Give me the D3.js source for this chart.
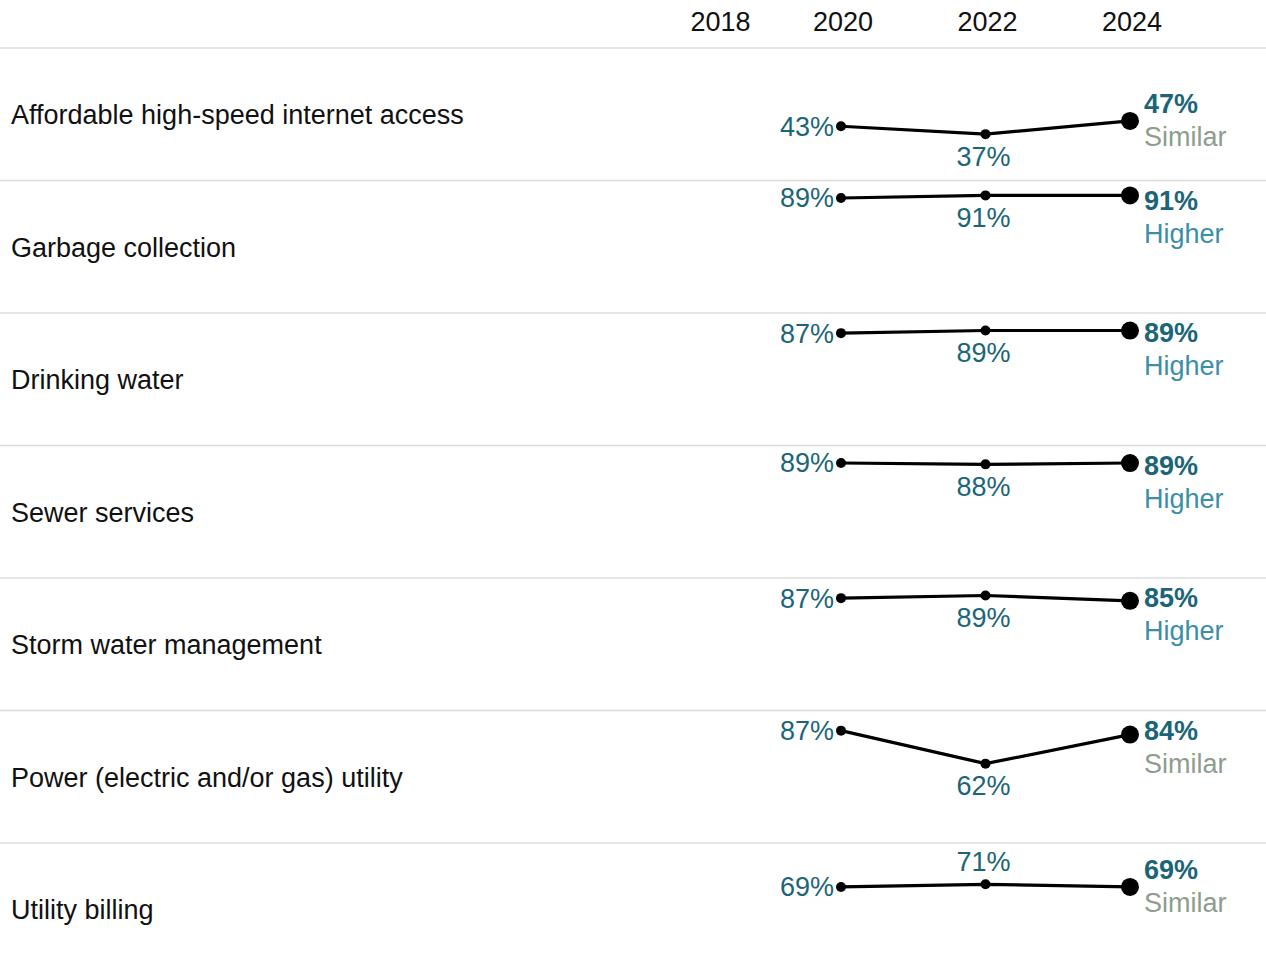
<!DOCTYPE html>
<html>
<head>
<meta charset="utf-8">
<script src="https://cdn.jsdelivr.net/npm/d3@7"></script>
<style>
  body { margin: 0; background: #fff; }
  svg { display: block; font-family: "Liberation Sans", Arial, sans-serif; }
  .sep { stroke: #dcdcdc; stroke-width: 1.5; }
  .year { font-size: 27px; fill: #111; text-anchor: middle; }
  .service { font-size: 27px; fill: #111; }
  .val { font-size: 27px; fill: #1b6577; }
  .val-last { font-size: 27px; fill: #1b6577; font-weight: bold; }
  .trend { stroke: #000; stroke-width: 3.2; fill: none; }
</style>
</head>
<body>
<svg width="1266" height="967"></svg>
<script>
  // data
  const years = [2018, 2020, 2022, 2024];
  const dataYears = [2020, 2022, 2024];
  const services = [
    'Affordable high-speed internet access',
    'Garbage collection',
    'Drinking water',
    'Sewer services',
    'Storm water management',
    'Power (electric and/or gas) utility',
    'Utility billing'
  ];
  const values2020 = [43, 89, 87, 89, 87, 87, 69];
  const values2022 = [37, 91, 89, 88, 89, 62, 71];
  const values2024 = [47, 91, 89, 89, 85, 84, 69];
  const status = ['Similar', 'Higher', 'Higher', 'Higher', 'Higher', 'Similar', 'Similar'];
  const midLabelAbove = [false, false, false, false, false, false, true];

  const statusColor = { Similar: '#8d9d8e', Higher: '#3c8ea6' };

  const width = 1266;
  const headerH = 48;
  const rowH = 132.5;

  const svg = d3.select('svg');

  const x = d3.scaleLinear().domain([2020, 2024]).range([841, 1130]);

  // header
  svg.selectAll('text.year').data(years)
    .enter().append('text')
      .attr('class', 'year')
      .attr('x', d => d === 2018 ? x(d) + 24 : x(d) + 2)
      .attr('y', 31)
      .text(d => d);

  svg.append('line')
    .attr('class', 'sep')
    .attr('x1', 0).attr('x2', width)
    .attr('y1', headerH).attr('y2', headerH);

  const rows = services.map((name, i) => ({
    name,
    vals: [values2020[i], values2022[i], values2024[i]],
    status: status[i],
    above: midLabelAbove[i],
    top: headerH + i * rowH
  }));

  const rowG = svg.selectAll('g.row').data(rows)
    .enter().append('g')
      .attr('class', 'row');

  rowG.filter((d, i) => i > 0).append('line')
    .attr('class', 'sep')
    .attr('x1', 0).attr('x2', width)
    .attr('y1', d => d.top).attr('y2', d => d.top);

  rowG.append('text')
    .attr('class', 'service')
    .attr('x', 11)
    .attr('y', d => d.top + 67)
    .attr('dy', '0.35em')
    .text(d => d.name);

  rowG.each(function (d) {
    const g = d3.select(this);
    const y = d3.scaleLinear().domain([0, 100]).range([d.top + 135, d.top + 3]);
    const pts = d.vals.map((v, j) => ({ year: dataYears[j], v }));

    g.append('path')
      .attr('class', 'trend')
      .attr('d', d3.line().x(p => x(p.year)).y(p => y(p.v))(pts));

    g.selectAll('circle').data(pts)
      .enter().append('circle')
        .attr('cx', p => x(p.year))
        .attr('cy', p => y(p.v))
        .attr('r', (p, j) => j === 2 ? 9 : 5)
        .attr('fill', '#000');

    // 2020 label
    g.append('text')
      .attr('class', 'val')
      .attr('x', x(2020) - 7)
      .attr('y', y(pts[0].v))
      .attr('dy', '0.35em')
      .attr('text-anchor', 'end')
      .text(pts[0].v + '%');

    // 2022 label
    g.append('text')
      .attr('class', 'val')
      .attr('x', x(2022) - 2)
      .attr('y', y(pts[1].v) + (d.above ? -23 : 22))
      .attr('dy', '0.35em')
      .attr('text-anchor', 'middle')
      .text(pts[1].v + '%');

    // 2024 label + status
    const ly = Math.max(d.top + 20, y(pts[2].v) - 17);
    g.append('text')
      .attr('class', 'val-last')
      .attr('x', x(2024) + 14)
      .attr('y', ly)
      .attr('dy', '0.35em')
      .text(pts[2].v + '%');

    g.append('text')
      .attr('x', x(2024) + 14)
      .attr('y', ly + 33)
      .attr('dy', '0.35em')
      .attr('font-size', 27)
      .attr('fill', statusColor[d.status])
      .text(d.status);
  });
</script>
</body>
</html>
